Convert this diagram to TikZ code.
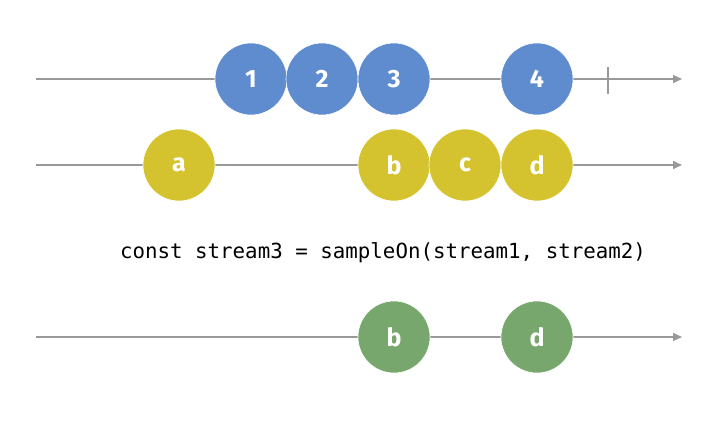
\documentclass[tikz,border=0pt]{standalone}
\usepackage{fontspec}
\setsansfont{Fira Sans}
\setmonofont{DejaVu Sans Mono}
\usetikzlibrary{arrows.meta}
\definecolor{marbleblue}{HTML}{5F8BCF}
\definecolor{marbleyellow}{HTML}{D4C32E}
\definecolor{marblegreen}{HTML}{78A76E}
\definecolor{timeline}{HTML}{999999}
\newcommand{\marblefont}{\fontsize{25}{28}\selectfont\sffamily\bfseries}
\newcommand{\codefont}{\fontsize{20.8}{24}\selectfont\ttfamily}
\tikzset{
  axis/.style={draw=timeline, line width=1.6pt, -{Triangle[length=9pt,width=8pt]}},
  marble/.style={circle, minimum size=72pt, inner sep=0pt, draw=white, line width=0.6pt,
                 text=white, font=\marblefont},
}

\begin{document}
\begin{tikzpicture}[x=1pt,y=-1pt]
\useasboundingbox (0,0) rectangle (715,423);
% stream1
\coordinate (s1a) at (36,79);
\coordinate (s1b) at (682,79);
\draw[axis] (s1a) -- (s1b);
\coordinate (endtop) at (608,67);
\coordinate (endbot) at (608,94);
\draw[timeline, line width=1.6pt] (endtop) -- (endbot);
\node[marble, fill=marbleblue] (one) at (251,79) {1};
\node[marble, fill=marbleblue] (two) at (322,79) {2};
\node[marble, fill=marbleblue] (three) at (394,79) {3};
\node[marble, fill=marbleblue] (four) at (537,79) {4};
% stream2
\coordinate (s2a) at (36,165);
\coordinate (s2b) at (682,165);
\draw[axis] (s2a) -- (s2b);
\node[marble, fill=marbleyellow] (a) at (179,165) {a};
\node[marble, fill=marbleyellow] (b) at (394,165) {b};
\node[marble, fill=marbleyellow] (c) at (465,165) {c};
\node[marble, fill=marbleyellow] (d) at (537,165) {d};
% operator
\node[font=\codefont] (op) at (383,253) {const stream3 = sampleOn(stream1, stream2)};
% stream3
\coordinate (s3a) at (36,337);
\coordinate (s3b) at (682,337);
\draw[axis] (s3a) -- (s3b);
\node[marble, fill=marblegreen] (outb) at (394,337) {b};
\node[marble, fill=marblegreen] (outd) at (537,337) {d};
\end{tikzpicture}
\end{document}
